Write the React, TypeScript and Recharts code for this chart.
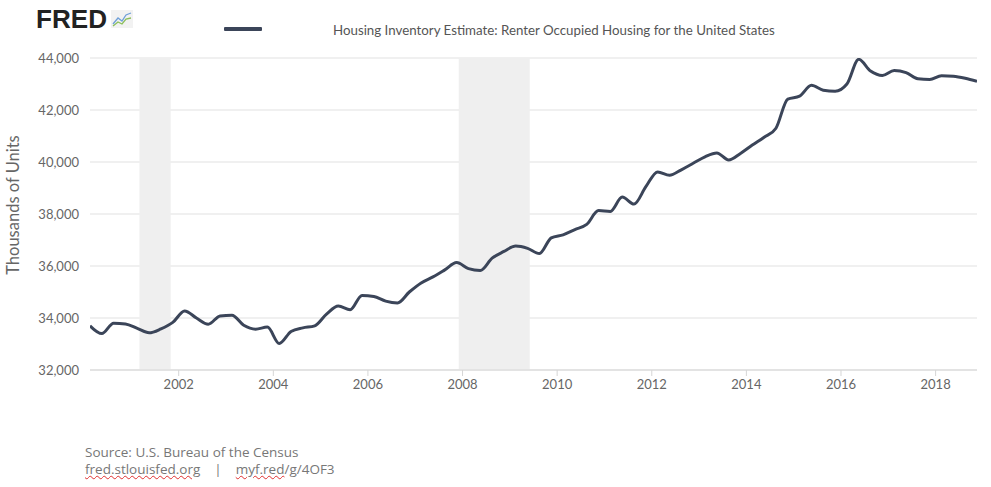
import React from "react";
import {
  LineChart,
  Line,
  XAxis,
  YAxis,
  CartesianGrid,
  ReferenceArea,
} from "recharts";

// Renter occupied housing units (thousands), quarterly 2000 Q1 - 2018 Q4
const firstYear = 2000;
const renterOccupied = [
  33700, 33400, 33800, 33770, 33600, 33430, 33580, 33830,
  34270, 34000, 33760, 34080, 34110, 33720, 33570, 33650,
  33020, 33480, 33620, 33700, 34150, 34460, 34320, 34870,
  34830, 34650, 34580, 35000, 35350, 35580, 35850, 36130,
  35900, 35830, 36300, 36560, 36770, 36680, 36480, 37080,
  37200, 37400, 37600, 38130, 38100, 38650, 38380, 39050,
  39620, 39490, 39700, 39950, 40200, 40350, 40080, 40330,
  40650, 40950, 41300, 42420, 42530, 42950, 42760, 42720,
  43000, 43950, 43500, 43330, 43520, 43440, 43200, 43170,
  43320, 43300, 43220, 43100,
];

// recessions (decimal years)
const recessionStarts = [2001.17, 2007.92];
const recessionEnds = [2001.83, 2009.42];

const xTicks = [2002, 2004, 2006, 2008, 2010, 2012, 2014, 2016, 2018];
const yTicks = [32000, 34000, 36000, 38000, 40000, 42000, 44000];

const data = renterOccupied.map((v, i) => ({
  quarter: `${firstYear + Math.floor(i / 4)}-Q${(i % 4) + 1}`,
  // plotted at the middle of each quarter
  t: firstYear + i / 4 + 0.125,
  value: v,
}));

const font = "Lato, 'Open Sans', sans-serif";
const lineColor = "#3b4559";

export default function App() {
  return (
    <div
      style={{
        position: "absolute",
        left: 0,
        top: 0,
        width: 991,
        height: 487,
        background: "#fff",
        fontFamily: font,
      }}
    >
      {/* FRED logo */}
      <svg
        style={{ position: "absolute", left: 0, top: 0 }}
        width={140}
        height={34}
      >
        <text
          x={36}
          y={28}
          fontFamily="'Liberation Sans', Arial, sans-serif"
          fontWeight={900}
          fontSize={25}
          fill="#222"
          textLength={71}
          lengthAdjust="spacingAndGlyphs"
        >
          FRED
        </text>
        <rect x={111} y={10} width={22} height={18} fill="#f2f2f2" />
        <polyline
          points="113,24 118,18 122,21 126,15 131,13"
          fill="none"
          stroke="#6f9fd8"
          strokeWidth={1.3}
        />
        <polyline
          points="113,26 118,22 122,24 126,19 131,18"
          fill="none"
          stroke="#8cbf5a"
          strokeWidth={1.3}
        />
      </svg>

      {/* legend */}
      <div
        style={{
          position: "absolute",
          left: 224,
          top: 27,
          width: 38,
          height: 4,
          background: lineColor,
          borderRadius: 1,
        }}
      />
      <div
        style={{
          position: "absolute",
          left: 333,
          top: 22,
          fontSize: 13.3,
          color: "#555",
          whiteSpace: "nowrap",
        }}
      >
        Housing Inventory Estimate: Renter Occupied Housing for the United States
      </div>

      {/* y axis title */}
      <div
        style={{
          position: "absolute",
          left: 13,
          top: 205,
          transform: "translate(-50%, -50%) rotate(-90deg)",
          fontSize: 16.5,
          color: "#666",
          whiteSpace: "nowrap",
        }}
      >
        Thousands of Units
      </div>

      <div style={{ position: "absolute", left: 0, top: 0 }}>
        <LineChart
          width={991}
          height={487}
          data={data}
          margin={{ top: 58, right: 14, bottom: 87, left: 0 }}
        >
          <CartesianGrid
            horizontal
            vertical={false}
            stroke="#e1e1e1"
            strokeWidth={1}
          />
          {recessionStarts.map((s, i) => (
            <ReferenceArea
              key={s}
              x1={s}
              x2={recessionEnds[i]}
              y1={32000}
              y2={44000}
              fill="#efefef"
              fillOpacity={1}
              stroke="none"
              ifOverflow="extendDomain"
            />
          ))}
          <XAxis
            dataKey="t"
            type="number"
            domain={[2000.125, 2018.875]}
            ticks={xTicks}
            tickFormatter={(v) => String(v)}
            axisLine={{ stroke: "#d6d6d6" }}
            tickLine={{ stroke: "#d6d6d6" }}
            tickSize={6}
            tickMargin={4}
            tick={{ fill: "#666", fontSize: 13, fontFamily: font }}
            allowDataOverflow
          />
          <YAxis
            type="number"
            domain={[32000, 44000]}
            ticks={yTicks}
            width={90}
            axisLine={false}
            tickLine={false}
            tickSize={0}
            tickMargin={11}
            tickFormatter={(v) => v.toLocaleString("en-US")}
            tick={{ fill: "#666", fontSize: 13, fontFamily: font }}
            allowDataOverflow
          />
          <Line
            type="monotone"
            dataKey="value"
            stroke={lineColor}
            strokeWidth={3}
            dot={false}
            isAnimationActive={false}
          />
        </LineChart>
      </div>

      {/* source notes */}
      <div
        style={{
          position: "absolute",
          left: 85,
          top: 444,
          fontSize: 13.5,
          lineHeight: "17px",
          color: "#777",
          fontFamily: "'Open Sans', Lato, sans-serif",
          whiteSpace: "pre",
        }}
      >
        <div>Source: U.S. Bureau of the Census</div>
        <div>
          <span
            style={{
              textDecoration: "underline wavy #e03030",
              textDecorationThickness: 1,
            }}
          >
            fred.stlouisfed.org
          </span>
          {"    |    "}
          <span
            style={{
              textDecoration: "underline wavy #e03030",
              textDecorationThickness: 1,
            }}
          >
            myf.red
          </span>
          /g/4OF3
        </div>
      </div>
    </div>
  );
}
